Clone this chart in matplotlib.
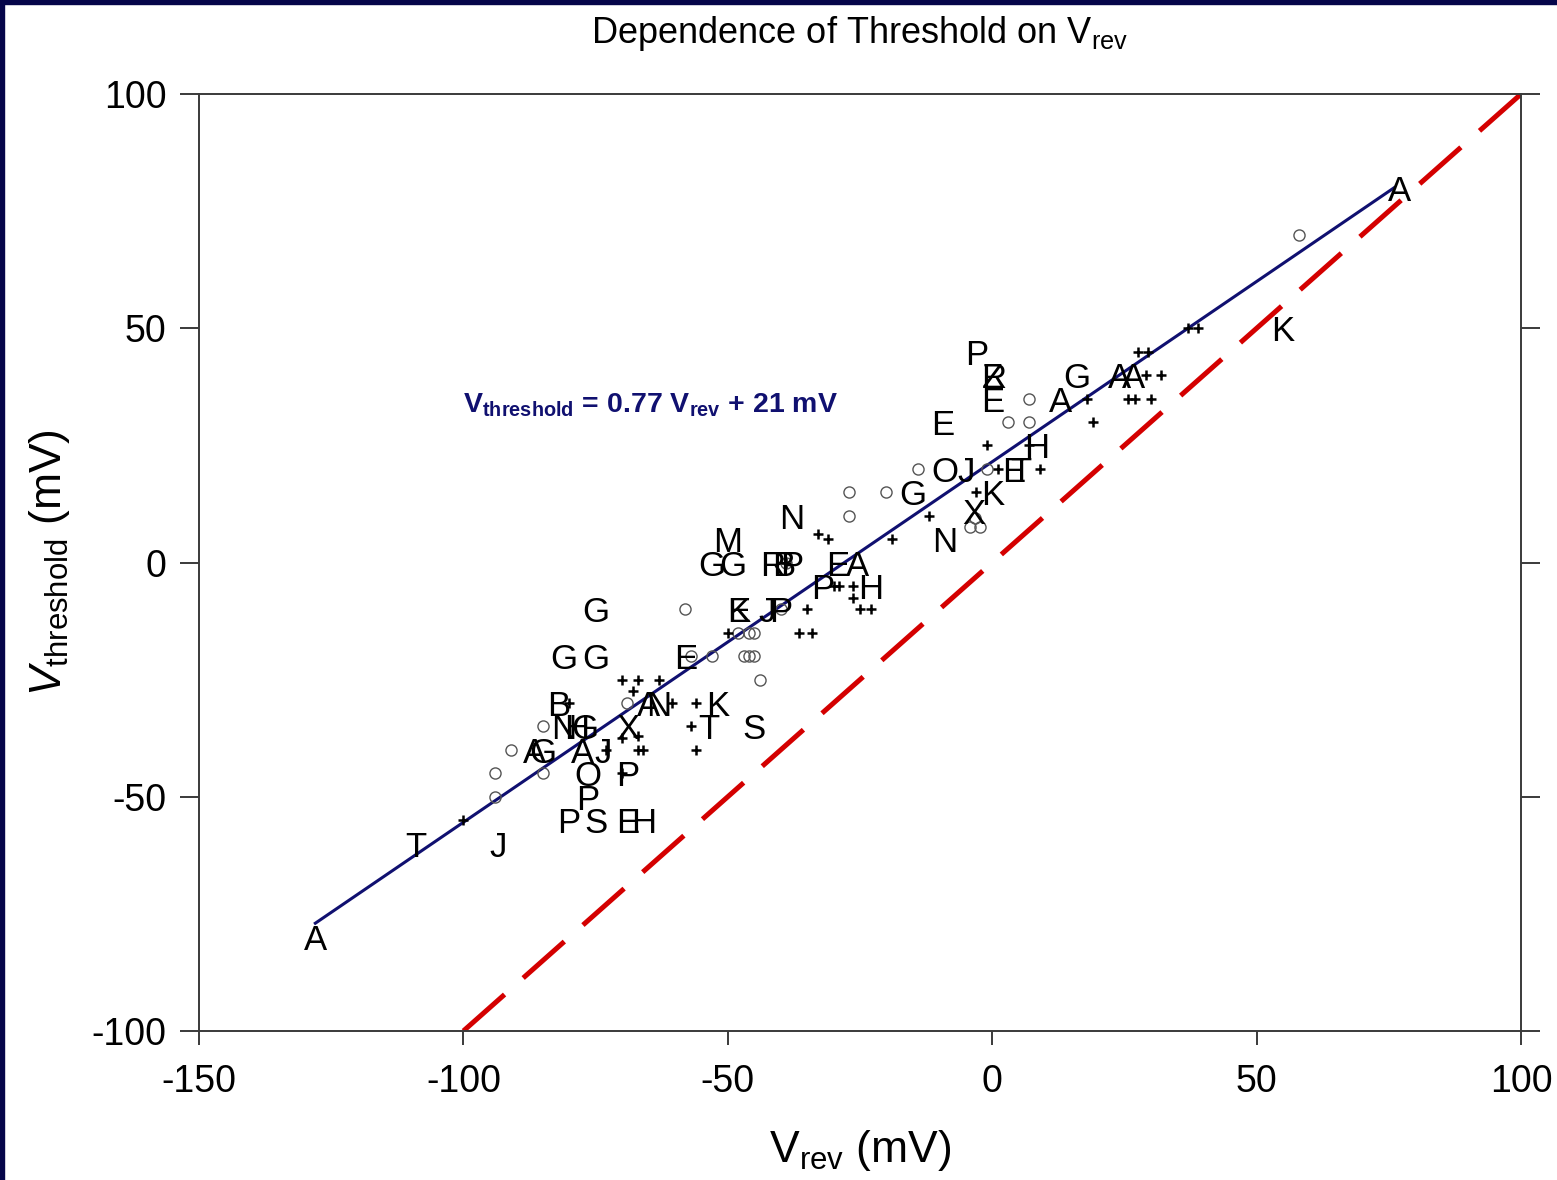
import numpy as np
import matplotlib
matplotlib.use("Agg")
import matplotlib.pyplot as plt
from matplotlib.patches import Rectangle

plt.rcParams['font.family'] = ['Liberation Sans', 'DejaVu Sans']
plt.rcParams['mathtext.fontset'] = 'custom'
plt.rcParams['mathtext.rm'] = 'Liberation Sans'
plt.rcParams['mathtext.it'] = 'Liberation Sans:italic'
plt.rcParams['mathtext.bf'] = 'Liberation Sans:bold'
plt.rcParams['axes.unicode_minus'] = False

# letter-coded experiments (label, Vrev, Vthreshold)
letter_labels = ['A', 'T', 'J', 'P', 'S', 'E', 'H', 'P', 'O', 'P',
                 'A', 'G', 'A', 'J', 'N', 'H', 'G', 'X', 'T', 'S',
                 'B', 'A', 'N', 'K', 'G', 'G', 'E', 'G', 'E', 'K',
                 'J', 'P', 'P', 'H', 'G', 'G', 'R', 'B', 'P', 'E',
                 'A', 'M', 'N', 'N', 'X', 'G', 'K', 'O', 'J', 'E',
                 'T', 'H', 'E', 'E', 'A', 'R', 'Z', 'G', 'A', 'A',
                 'P', 'K', 'A']
letter_x = [-128, -109, -93.5, -80, -75, -69, -66, -76.5, -76.5, -69,
            -86.5, -85, -77.5, -73.5, -81, -78.5, -77, -69, -53.5, -45,
            -82, -65, -63, -52, -81, -75, -58, -75, -48, -48,
            -42.5, -40, -32, -23, -53, -49, -41.5, -39.5, -38, -29.3,
            -25.4, -50, -38, -9, -3.5, -15, 0, -9, -5, 4,
            5.5, 8.5, -9.3, 0, 13, 0.3, 0, 16, 24, 26.7,
            -3, 55, 77]
letter_y = [-80, -60, -60, -55, -55, -55, -55, -50, -45, -45,
            -40, -40, -40, -40, -35, -35, -35, -35, -35, -35,
            -30, -30, -30, -30, -20, -20, -20, -10, -10, -10,
            -10, -10, -5, -5, 0, 0, 0, 0, 0, 0,
            0, 5, 10, 5, 11, 15, 15, 20, 20, 20,
            20, 25, 30, 35, 35, 40, 40, 40, 40, 40,
            45, 50, 80]

# open circles
circle_x = [-94, -94, -91, -85, -85, -69, -57, -53, -58, -48,
            -46, -45, -47, -46, -45, -44, -39, -40, -27, -27,
            -20, -14, -1, -4.2, -2.3, -3.2, 3, 7, 7, 58]
circle_y = [-45, -50, -40, -35, -45, -30, -20, -20, -10, -15,
            -15, -15, -20, -20, -20, -25, 0, -10, 10, 15,
            15, 20, 20, 7.5, 7.5, 9.5, 30, 30, 35, 70]

# plus symbols
plus_x = [-100, -80, -70, -67, -63, -68, -60.5, -56, -57, -70,
          -67, -73, -67, -66, -56, -70, -50, -35, -36.5, -34,
          -30, -29, -26.3, -26.3, -25, -23, -33, -31, -19, -12,
          -3, -1, 1, 7, 9, 18, 19, 27.5, 29.5, 29,
          32, 25.7, 27, 30, 37, 39, -39]
plus_y = [-55, -30, -25, -25, -25, -27.5, -30, -30, -35, -37.5,
          -37, -40, -40, -40, -40, -45, -15, -10, -15, -15,
          -5, -5, -5, -7.5, -10, -10, 6, 5, 5, 10,
          15, 25, 20, 25, 20, 35, 30, 45, 45, 40,
          40, 35, 35, 35, 50, 50, 0]

# regression line endpoints and identity line
fit_x = [-128, 76]
fit_y = [-77, 80]
ident = [-100, 100]

fig = plt.figure(figsize=(15.57, 11.8), dpi=100)
fig.patch.set_facecolor('white')
fig.patches.append(Rectangle((0, 0), 4 / 1557, 1, transform=fig.transFigure,
                             color='#05054a', zorder=0))
fig.patches.append(Rectangle((0, 1 - 4 / 1180), 1, 4 / 1180, transform=fig.transFigure,
                             color='#05054a', zorder=0))

ax = fig.add_axes([0.1278, 0.1263, 0.8491, 0.794])

ax.plot(ident, ident, color='#d40000', lw=3.6, linestyle=(0, (11, 4.97)), zorder=2)
ax.plot(fit_x, fit_y, color='#101070', lw=2.2, zorder=3)

ax.plot(circle_x, circle_y, 'o', ms=8, mfc='none', mec='#555555', mew=1.0, zorder=4)
ax.plot(plus_x, plus_y, '+', ms=7, color='black', mew=1.8, zorder=4)

for lab, x, y in zip(letter_labels, letter_x, letter_y):
    ax.text(x, y, lab, ha='center', va='center_baseline', fontsize=25, color='black', zorder=5)

ax.text(-100, 32, r'$\mathbf{V_{threshold}}$ = 0.77 $\mathbf{V_{rev}}$ + 21 mV',
        fontsize=20.5, fontweight='bold', color='#101070', ha='left', va='baseline')

ax.set_xlim(-150, 100)
ax.set_ylim(-100, 100)
ax.set_xticks([-150, -100, -50, 0, 50, 100])
ax.set_yticks([-100, -50, 0, 50, 100])

for s in ax.spines.values():
    s.set_color('#3a3a3a')
    s.set_linewidth(1.4)

ax.tick_params(axis='y', which='both', left=True, right=True, direction='out',
               length=13.5, width=1.4, color='#3a3a3a', labelsize=27, pad=10)
ax.tick_params(axis='x', which='both', bottom=True, top=False, direction='out',
               length=10, width=1.4, color='#3a3a3a', labelsize=27, pad=14)

ax.set_xlabel(r'V$_{\mathregular{rev}}$ (mV)', fontsize=32, labelpad=20)
ax.set_ylabel(r'$V_{\mathregular{threshold}}$ (mV)', fontsize=32, labelpad=14)
ax.set_title(r'Dependence of Threshold on V$_{\mathregular{rev}}$', fontsize=26, pad=37)

fig.savefig('out.png', dpi=100, facecolor=fig.get_facecolor())
